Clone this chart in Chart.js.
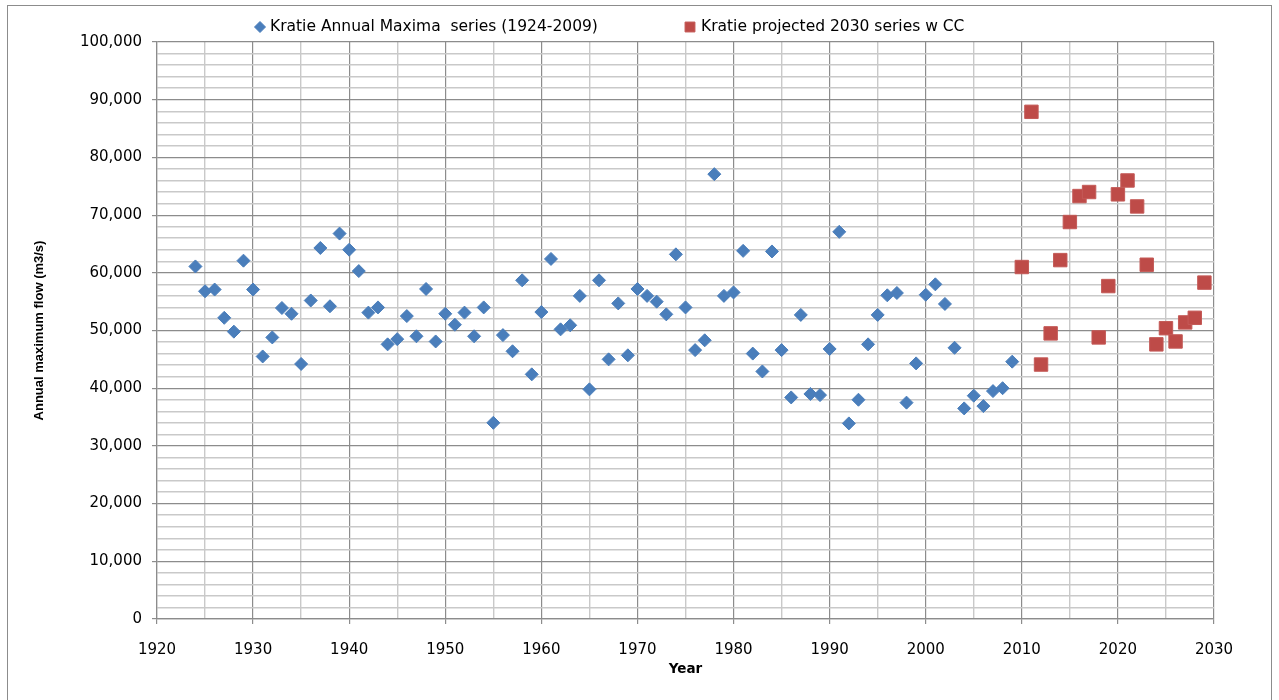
<!DOCTYPE html>
<html>
<head>
<meta charset="utf-8">
<title>Kratie annual maximum flow</title>
<script src="https://cdn.jsdelivr.net/npm/chart.js@4.4.1/dist/chart.umd.min.js"></script>
<style>
  html, body { margin: 0; padding: 0; background: #ffffff; }
  #wrap { position: relative; width: 1279px; height: 700px; }
  canvas { display: block; }
</style>
</head>
<body>
<div id="wrap"><canvas id="flowChart" width="1279" height="700"></canvas></div>
<script>
// Observed annual maxima at Kratie, 1924-2009 (m3/s)
const observedYears = [
  1924, 1925, 1926, 1927, 1928, 1929, 1930, 1931, 1932, 1933,
  1934, 1935, 1936, 1937, 1938, 1939, 1940, 1941, 1942, 1943,
  1944, 1945, 1946, 1947, 1948, 1949, 1950, 1951, 1952, 1953,
  1954, 1955, 1956, 1957, 1958, 1959, 1960, 1961, 1962, 1963,
  1964, 1965, 1966, 1967, 1968, 1969, 1970, 1971, 1972, 1973,
  1974, 1975, 1976, 1977, 1978, 1979, 1980, 1981, 1982, 1983,
  1984, 1985, 1986, 1987, 1988, 1989, 1990, 1991, 1992, 1993,
  1994, 1995, 1996, 1997, 1998, 1999, 2000, 2001, 2002, 2003,
  2004, 2005, 2006, 2007, 2008, 2009
];
const observedFlow = [
  61100, 56800, 57100, 52200, 49800, 62100, 57100, 45500, 48800, 53900,
  52900, 44200, 55200, 64300, 54200, 66800, 64000, 60300, 53100, 54000,
  47600, 48500, 52500, 49000, 57200, 48100, 52900, 51000, 53100, 49000,
  54000, 34000, 49200, 46400, 58700, 42400, 53200, 62400, 50200, 50900,
  56000, 39800, 58700, 45000, 54700, 45700, 57200, 56000, 55000, 52800,
  63200, 54000, 46600, 48300, 77100, 56000, 56600, 63800, 46000, 42900,
  63700, 46600, 38400, 52700, 39000, 38800, 46800, 67100, 33900, 38000,
  47600, 52700, 56100, 56500, 37500, 44300, 56200, 58000, 54600, 47000,
  36500, 38700, 36900, 39500, 40000, 44600
];

// Projected 2030 series with climate change (m3/s)
const projectedYears = [
  2010, 2011, 2012, 2013, 2014, 2015, 2016, 2017, 2018, 2019,
  2020, 2021, 2022, 2023, 2024, 2025, 2026, 2027, 2028, 2029
];
const projectedFlow = [
  61000, 87900, 44100, 49500, 62200, 68800, 73300, 74000, 48800, 57700,
  73600, 76000, 71500, 61400, 47600, 50400, 48100, 51400, 52200, 58300
];

// Labelled ticks
const yearTickLabels = [1920, 1930, 1940, 1950, 1960, 1970, 1980, 1990, 2000, 2010, 2020, 2030];
const flowTickLabels = [0, 10000, 20000, 30000, 40000, 50000, 60000, 70000, 80000, 90000, 100000];

const seriesNames = [
  'Kratie Annual Maxima  series (1924-2009)',
  'Kratie projected 2030 series w CC'
];

const toPoints = (xs, ys) => xs.map((x, i) => ({ x: x, y: ys[i] }));

const MAJOR = '#8c8c8c';
const MINOR = '#c9c9c9';
const TEXT_FONT = '"DejaVu Sans", sans-serif';

// White background and thin frame around the whole chart
const frame = {
  id: 'frame',
  beforeDraw(chart) {
    const ctx = chart.ctx;
    ctx.save();
    ctx.fillStyle = '#ffffff';
    ctx.fillRect(0, 0, chart.width, chart.height);
    ctx.strokeStyle = '#8c8c8c';
    ctx.lineWidth = 1;
    ctx.strokeRect(7.5, 5.5, 1264, 700);
    ctx.restore();
  }
};

// Series key along the top, markers drawn with the datasets' own point styles
const seriesKey = {
  id: 'seriesKey',
  afterDraw(chart) {
    const ctx = chart.ctx;
    const slots = [
      { marker: 260, text: 270, radius: 5.5 },
      { marker: 690, text: 701, radius: 7 }
    ];
    ctx.save();
    ctx.font = '15.5px ' + TEXT_FONT;
    ctx.textBaseline = 'middle';
    ctx.textAlign = 'left';
    chart.data.datasets.forEach((ds, i) => {
      const s = slots[i];
      ctx.fillStyle = ds.backgroundColor;
      ctx.strokeStyle = ds.borderColor;
      ctx.lineWidth = 1;
      Chart.helpers.drawPoint(ctx, {
        pointStyle: ds.pointStyle, radius: s.radius, rotation: 0, borderWidth: 1
      }, s.marker, 27);
      ctx.fillStyle = '#000000';
      ctx.fillText(ds.label, s.text, 27);
    });
    ctx.restore();
  }
};

new Chart(document.getElementById('flowChart'), {
  type: 'scatter',
  data: {
    datasets: [
      {
        label: seriesNames[0],
        data: toPoints(observedYears, observedFlow),
        pointStyle: 'rectRot',
        pointRadius: 6.5,
        pointHoverRadius: 6.5,
        backgroundColor: '#4a7ebb',
        borderColor: '#4a7ebb',
        borderWidth: 1
      },
      {
        label: seriesNames[1],
        data: toPoints(projectedYears, projectedFlow),
        pointStyle: 'rect',
        pointRadius: 9.5,
        pointHoverRadius: 9.5,
        backgroundColor: '#be4b48',
        borderColor: '#c45a57',
        borderWidth: 1
      }
    ]
  },
  options: {
    responsive: false,
    animation: false,
    devicePixelRatio: 1,
    layout: { padding: { top: 42, right: 65, bottom: 10, left: 0 } },
    plugins: {
      legend: { display: false },
      tooltip: { enabled: false }
    },
    scales: {
      x: {
        type: 'linear',
        min: 1920,
        max: 2030,
        afterFit(scale) { scale.height = 71; },
        ticks: {
          stepSize: 5,
          autoSkip: false,
          maxRotation: 0,
          padding: 17,
          color: '#000000',
          font: { family: TEXT_FONT, size: 15 },
          callback: (v) => yearTickLabels.includes(v) ? String(v) : ''
        },
        grid: {
          color: (c) => yearTickLabels.includes(c.tick.value) ? MAJOR : MINOR,
          lineWidth: (c) => yearTickLabels.includes(c.tick.value) ? 1.2 : 1.4,
          tickColor: (c) => yearTickLabels.includes(c.tick.value) ? MAJOR : 'rgba(0,0,0,0)',
          tickLength: 5
        },
        border: { color: MAJOR, width: 1.2 },
        title: {
          display: true,
          text: 'Year',
          color: '#000000',
          font: { family: TEXT_FONT, size: 13.5, weight: 'bold' },
          padding: { top: 0, bottom: 12 }
        }
      },
      y: {
        type: 'linear',
        min: 0,
        max: 100000,
        afterFit(scale) { scale.width = 157; },
        ticks: {
          stepSize: 2000,
          autoSkip: false,
          padding: 10,
          color: '#000000',
          font: { family: TEXT_FONT, size: 15 },
          callback: (v) => flowTickLabels.includes(v) ? v.toLocaleString('en-US') : ''
        },
        grid: {
          color: (c) => flowTickLabels.includes(c.tick.value) ? MAJOR : MINOR,
          lineWidth: (c) => flowTickLabels.includes(c.tick.value) ? 1.2 : 1.4,
          tickColor: (c) => flowTickLabels.includes(c.tick.value) ? MAJOR : 'rgba(0,0,0,0)',
          tickLength: 5
        },
        border: { color: MAJOR, width: 1.2 },
        title: {
          display: true,
          text: 'Annual maximum flow (m3/s)',
          color: '#000000',
          font: { family: '"Liberation Sans", Arial, sans-serif', size: 13, weight: 'bold' },
          padding: { top: 32, bottom: 0 }
        }
      }
    }
  },
  plugins: [frame, seriesKey]
});
</script>
</body>
</html>
